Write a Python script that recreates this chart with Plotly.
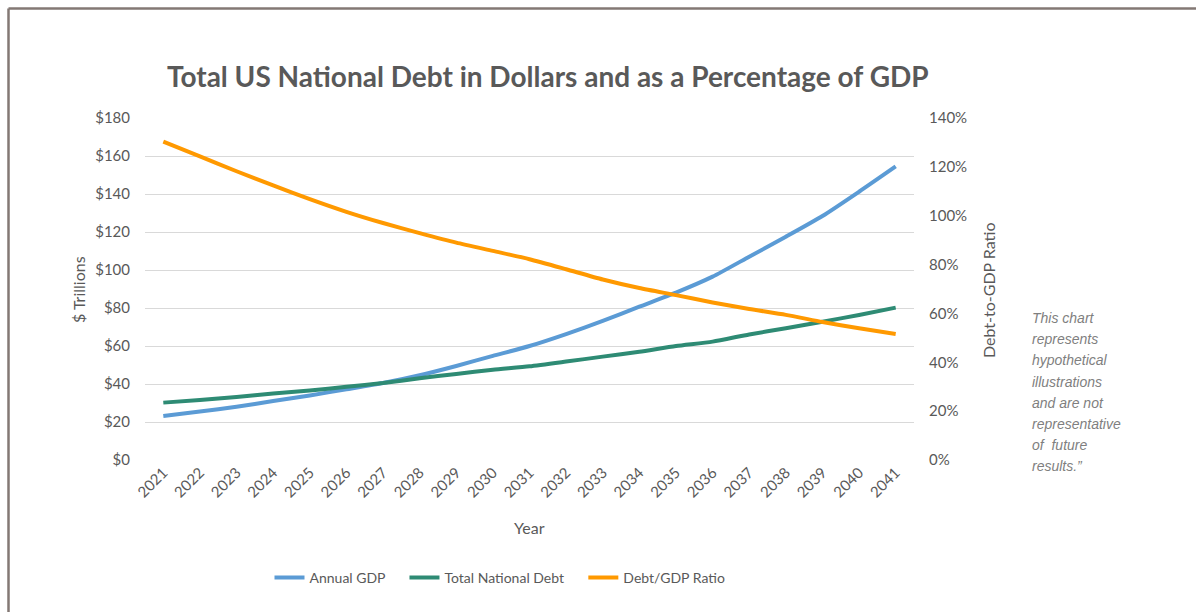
import plotly.graph_objects as go

years = [str(y) for y in range(2021, 2042)]
annual_gdp = [23.2, 25.5, 28.0, 31.0, 34.0, 37.2, 40.5, 44.6, 49.5, 54.8, 60.0,
              66.3, 73.2, 80.7, 88.1, 96.5, 107.0, 117.5, 128.4, 141.2, 154.5]
national_debt = [30.2, 31.6, 33.2, 35.0, 36.6, 38.5, 40.5, 43.0, 45.3, 47.5, 49.3,
                 51.8, 54.4, 57.0, 60.0, 62.3, 66.1, 69.3, 72.8, 76.3, 80.2]
debt_gdp_ratio = [130.3, 124.3, 118.2, 112.4, 106.8, 101.6, 97.0, 92.9, 89.0, 85.6, 82.2,
                  78.1, 73.9, 70.4, 67.5, 64.5, 61.8, 59.4, 56.5, 53.9, 51.6]

left_ticks = [0, 20, 40, 60, 80, 100, 120, 140, 160, 180]
left_labels = ["$" + str(v) for v in left_ticks]
right_ticks = [0, 20, 40, 60, 80, 100, 120, 140]
right_labels = [str(v) + "%" for v in right_ticks]

note_lines = ["This chart", "represents", "hypothetical", "illustrations",
              "and are not", "representative", "of  future", "results.\u201d"]

FONT = "Lato, Open Sans, sans-serif"
GREY = "#595959"
PAD = "\u00a0\u00a0\u00a0\u00a0"

fig = go.Figure()
fig.add_trace(go.Scatter(x=years, y=annual_gdp, name="Annual GDP" + PAD, mode="lines",
                         line=dict(color="#5b9bd5", width=4, shape="spline", smoothing=0.6)))
fig.add_trace(go.Scatter(x=years, y=national_debt, name="Total National Debt" + PAD, mode="lines",
                         line=dict(color="#2e8b74", width=4, shape="spline", smoothing=0.6)))
fig.add_trace(go.Scatter(x=years, y=debt_gdp_ratio, name="Debt/GDP Ratio", mode="lines",
                         yaxis="y2",
                         line=dict(color="#ff9900", width=4, shape="spline", smoothing=0.6)))

L, R, T, B = 145, 282, 118, 152
W, H = 1196, 612
pw, ph = W - L - R, H - T - B

def px(x):
    return (x - L) / pw

def py(y):
    return (H - B - y) / ph

annotations = [
    dict(text="<b>Total US National Debt in Dollars and as a Percentage of GDP</b>",
         x=px(548), y=py(76), xref="paper", yref="paper", showarrow=False,
         font=dict(family=FONT, size=28, color=GREY), xanchor="center", yanchor="middle"),
    dict(text="$ Trillions", x=px(78), y=py(290), xref="paper", yref="paper", showarrow=False,
         textangle=-90, font=dict(family=FONT, size=16, color=GREY), xanchor="center", yanchor="middle"),
    dict(text="Debt-to-GDP Ratio", x=px(988), y=py(290), xref="paper", yref="paper", showarrow=False,
         textangle=-90, font=dict(family=FONT, size=16, color=GREY), xanchor="center", yanchor="middle"),
    dict(text="Year", x=px(529), y=py(527), xref="paper", yref="paper", showarrow=False,
         font=dict(family=FONT, size=16, color=GREY), xanchor="center", yanchor="middle"),
]
for i, line in enumerate(note_lines):
    annotations.append(dict(text="<i>" + line + "</i>", x=px(1030), y=py(318 + i * 21.2),
                            xref="paper", yref="paper", showarrow=False, xanchor="left",
                            yanchor="middle",
                            font=dict(family="Liberation Sans, Arial, sans-serif", size=14,
                                      color="#7f7f7f")))

shapes = [
    dict(type="line", xref="paper", yref="paper", x0=px(8.5), x1=px(1196), y0=py(8.5), y1=py(8.5),
         line=dict(color="#837874", width=2.5)),
    dict(type="line", xref="paper", yref="paper", x0=px(8.5), x1=px(8.5), y0=py(8.5), y1=py(612),
         line=dict(color="#837874", width=2.5)),
]

fig.update_layout(
    width=W, height=H,
    margin=dict(l=L, r=R, t=T, b=B),
    paper_bgcolor="white", plot_bgcolor="white",
    font=dict(family=FONT, color=GREY),
    showlegend=True,
    legend=dict(orientation="h", x=px(500), y=py(578), xanchor="center", yanchor="middle",
                font=dict(family=FONT, size=14, color=GREY), itemwidth=30,
                tracegroupgap=0),
    xaxis=dict(type="category", range=[-0.5, len(years) - 0.5], tickangle=-45,
               tickfont=dict(family=FONT, size=15, color=GREY), showgrid=False,
               showline=False, ticks="", zeroline=False),
    yaxis=dict(range=[0, 180], tickvals=left_ticks, ticktext=left_labels,
               tickfont=dict(family=FONT, size=15, color=GREY), showgrid=True,
               gridcolor="#d9d9d9", gridwidth=1.3, zeroline=False, ticks="", ticklen=0,
               showline=False, ticklabelstandoff=14),
    yaxis2=dict(range=[0, 140], tickvals=right_ticks, ticktext=right_labels, overlaying="y",
                side="right", tickfont=dict(family=FONT, size=15, color=GREY), showgrid=False,
                zeroline=False, ticks="", showline=False, ticklabelstandoff=14),
    annotations=annotations,
    shapes=shapes,
)

fig.write_html("out.html")
